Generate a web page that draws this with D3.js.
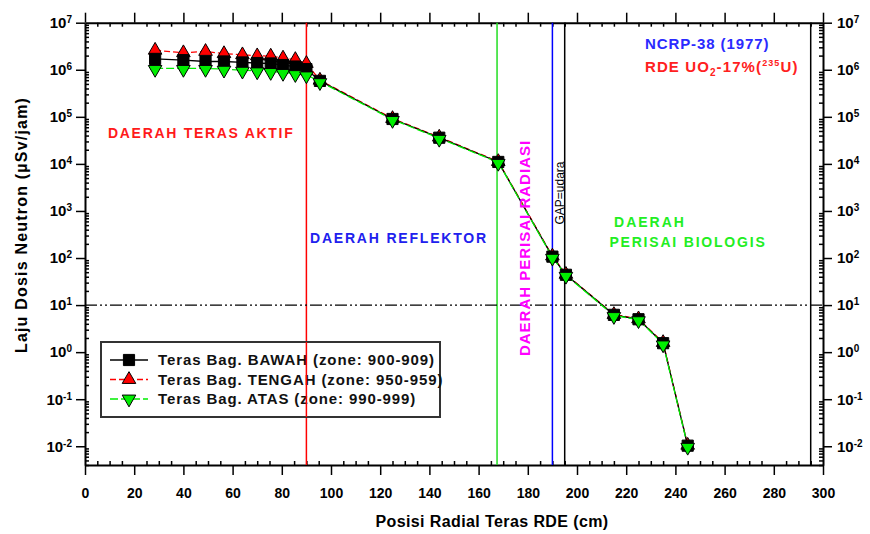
<!DOCTYPE html>
<html><head><meta charset="utf-8">
<script src="https://cdn.jsdelivr.net/npm/d3@7"></script>
<style>body{margin:0;background:#fff}svg{display:block}text{font-family:"Liberation Sans",Arial,sans-serif}</style>
</head><body><div id="chart"></div>
<script>
const positions = [28.5, 40, 49, 56.5, 64, 70, 75.5, 80.5, 85.5, 90, 95.5, 125, 144, 168, 190, 195.5, 215, 225, 235, 245];
const bawah  = [1.7e6, 1.6e6, 1.5e6, 1.5e6, 1.43e6, 1.39e6, 1.36e6, 1.26e6, 1.17e6, 1.03e6, 5.8e5, 9.0e4, 3.6e4, 1.1e4, 107, 44, 6.2, 5.0, 1.55, 0.0103];
const tengah = [2.6e6, 2.3e6, 2.45e6, 2.2e6, 2.08e6, 1.98e6, 1.95e6, 1.77e6, 1.65e6, 1.36e6, 6.0e5, 9.2e4, 3.7e4, 1.12e4, 110, 45, 6.3, 5.1, 1.6, 0.0105];
const atas   = [1.07e6, 1.07e6, 1.07e6, 1.03e6, 0.98e6, 0.95e6, 0.92e6, 0.88e6, 0.83e6, 0.78e6, 5.6e5, 8.8e4, 3.5e4, 1.08e4, 104, 43, 6.0, 4.9, 1.5, 0.0100];
const seriesNames = ["Teras Bag. BAWAH (zone: 900-909)", "Teras Bag. TENGAH (zone: 950-959)", "Teras Bag. ATAS (zone: 990-999)"];
const xTicks = [0,20,40,60,80,100,120,140,160,180,200,220,240,260,280,300];
const yExponents = [7,6,5,4,3,2,1,0,-1,-2];
const regionLines = [90, 167.5, 190, 195, 295];
const limitLine = 10;

const W = 870, H = 534;
const L = 85, R = 823, T = 22.7, B = 465;
const svg = d3.select("#chart").append("svg").attr("width", W).attr("height", H);
const x = d3.scaleLinear().domain([0, 300]).range([L, R]);
const y = d3.scaleLog().domain([0.004, 1e7]).range([B, T]);

const minorX = d3.range(0, 301, 5).filter(v => v % 20 !== 0);
const majorY = yExponents.map(e => Math.pow(10, e));
const minorY = [];
for (let e = -3; e <= 6; e++) for (let m = 2; m <= 9; m++) { const v = m * Math.pow(10, e); if (v >= 0.004 && v <= 1e7) minorY.push(v); }

function styleAxis(g) {
  g.selectAll(".domain").attr("stroke", "#000").attr("stroke-width", 2);
  g.selectAll(".tick line").attr("stroke", "#000").attr("stroke-width", 1.5);
}
const bx = svg.append("g").attr("transform", `translate(0,${B})`).call(d3.axisBottom(x).tickValues(xTicks).tickSize(10).tickSizeOuter(0).tickPadding(13));
styleAxis(bx);
bx.selectAll(".tick text").attr("font-size", 14).attr("font-weight", "bold").attr("fill", "#000");
const bxm = svg.append("g").attr("transform", `translate(0,${B})`).call(d3.axisTop(x).tickValues(minorX).tickSize(4).tickFormat(""));
styleAxis(bxm); bxm.select(".domain").remove();
const tx = svg.append("g").attr("transform", `translate(0,${T})`).call(d3.axisTop(x).tickValues(xTicks).tickSize(10).tickSizeOuter(0).tickFormat(""));
styleAxis(tx);
const txm = svg.append("g").attr("transform", `translate(0,${T})`).call(d3.axisBottom(x).tickValues(minorX).tickSize(4).tickFormat(""));
styleAxis(txm); txm.select(".domain").remove();

function supLabels(g) {
  g.selectAll(".tick text").each(function(d) {
    const t = d3.select(this);
    const e = Math.round(Math.log10(d));
    t.text("10").attr("font-size", 15).attr("font-weight", "bold").attr("fill", "#000");
    t.append("tspan").attr("dy", "-0.5em").attr("font-size", 10).text(e);
  });
}
const ly = svg.append("g").attr("transform", `translate(${L},0)`).call(d3.axisLeft(y).tickValues(majorY).tickSize(9).tickSizeOuter(0).tickPadding(4));
styleAxis(ly); supLabels(ly);
const lym = svg.append("g").attr("transform", `translate(${L},0)`).call(d3.axisRight(y).tickValues(minorY).tickSize(4).tickFormat(""));
styleAxis(lym); lym.select(".domain").remove();
const ry = svg.append("g").attr("transform", `translate(${R},0)`).call(d3.axisRight(y).tickValues(majorY).tickSize(9).tickSizeOuter(0).tickPadding(5));
styleAxis(ry); supLabels(ry);
const rym = svg.append("g").attr("transform", `translate(${R},0)`).call(d3.axisLeft(y).tickValues(minorY).tickSize(4).tickFormat(""));
styleAxis(rym); rym.select(".domain").remove();

// axis titles
svg.append("text").attr("x", 492).attr("y", 527).attr("text-anchor", "middle")
  .attr("font-size", 16).attr("font-weight", "bold").attr("letter-spacing", 0.4).text("Posisi Radial Teras RDE (cm)");
svg.append("text").attr("transform", `translate(27,225) rotate(-90)`).attr("text-anchor", "middle")
  .attr("font-size", 16).attr("font-weight", "bold").attr("letter-spacing", 1.2).text("Laju Dosis Neutron (µSv/jam)");

// region lines
const lineColors = ["#ff0000", "#22dd22", "#0000ff", "#000", "#000"];
svg.selectAll(".vline").data(regionLines).enter().append("line")
  .attr("x1", d => x(d)).attr("x2", d => x(d)).attr("y1", T).attr("y2", B)
  .attr("stroke", (d, i) => lineColors[i]).attr("stroke-width", 1.5);
svg.append("line").attr("x1", L).attr("x2", R).attr("y1", y(limitLine)).attr("y2", y(limitLine))
  .attr("stroke", "#000").attr("stroke-width", 1.2).attr("stroke-dasharray", "12,3,2,3,2,3");

// series
const series = [
  {vals: tengah, name: seriesNames[1], color: "#ff0000", dash: "6,3", sym: "up"},
  {vals: bawah, name: seriesNames[0], color: "#000", dash: null, sym: "sq"},
  {vals: atas, name: seriesNames[2], color: "#00ee00", dash: "8,3", sym: "down"}
];
const lineGen = d3.line().x(d => x(d[0])).y(d => y(d[1]));
function symPath(sym) {
  if (sym === "sq") return d3.symbol(d3.symbolSquare, 125)();
  return d3.symbol(d3.symbolTriangle, 80)();
}
series.forEach(s => {
  const pts = positions.map((p, i) => [p, s.vals[i]]);
  svg.append("path").attr("d", lineGen(pts)).attr("fill", "none").attr("stroke", s.color)
    .attr("stroke-width", 1.3).attr("stroke-dasharray", s.dash);
});
series.forEach(s => {
  const pts = positions.map((p, i) => [p, s.vals[i]]);
  svg.append("g").selectAll("path").data(pts).enter().append("path")
    .attr("d", symPath(s.sym))
    .attr("transform", d => `translate(${x(d[0])},${y(d[1]) + (s.sym === "down" ? 1 : 0)})` + (s.sym === "down" ? " rotate(180)" : ""))
    .attr("fill", s.color).attr("stroke", "#000").attr("stroke-width", 1);
});

// region labels
svg.append("text").attr("x", 108).attr("y", 138).attr("font-size", 14).attr("font-weight", "bold")
  .attr("letter-spacing", 1.7).attr("fill", "#ff1a1a").text("DAERAH TERAS AKTIF");
svg.append("text").attr("x", 310).attr("y", 243).attr("font-size", 14).attr("font-weight", "bold")
  .attr("letter-spacing", 1.8).attr("fill", "#2020ee").text("DAERAH REFLEKTOR");
svg.append("text").attr("transform", "translate(530,248) rotate(-90)").attr("text-anchor", "middle")
  .attr("font-size", 15).attr("font-weight", "bold").attr("letter-spacing", 1).attr("fill", "#ff00ff").text("DAERAH PERISAI RADIASI");
svg.append("text").attr("transform", "translate(564,193) rotate(-90)").attr("text-anchor", "middle")
  .attr("font-size", 12).attr("fill", "#000").text("GAP=udara");
svg.append("text").attr("x", 650).attr("y", 227).attr("text-anchor", "middle").attr("font-size", 14).attr("font-weight", "bold")
  .attr("letter-spacing", 2).attr("fill", "#22ee22").text("DAERAH");
svg.append("text").attr("x", 688).attr("y", 247).attr("text-anchor", "middle").attr("font-size", 14).attr("font-weight", "bold")
  .attr("letter-spacing", 1.8).attr("fill", "#22ee22").text("PERISAI BIOLOGIS");
svg.append("text").attr("x", 645).attr("y", 49).attr("font-size", 15).attr("font-weight", "bold")
  .attr("letter-spacing", 0.9).attr("fill", "#2a2aff").text("NCRP-38 (1977)");
const rde = svg.append("text").attr("x", 645).attr("y", 72).attr("font-size", 15).attr("font-weight", "bold")
  .attr("letter-spacing", 1.1).attr("fill", "#ff2020");
rde.append("tspan").text("RDE UO");
rde.append("tspan").attr("dy", 4).attr("font-size", 10).text("2");
rde.append("tspan").attr("dy", -4).text("-17%(");
rde.append("tspan").attr("dy", -6).attr("font-size", 9).text("235");
rde.append("tspan").attr("dy", 6).text("U)");

// legend
const lg = svg.append("g");
lg.append("rect").attr("x", 101).attr("y", 342).attr("width", 339).attr("height", 75)
  .attr("fill", "#fff").attr("stroke", "#333").attr("stroke-width", 2);
const legOrder = [1, 0, 2];
legOrder.forEach((si, k) => {
  const s = series[si];
  const yy = 360 + k * 19.5;
  lg.append("line").attr("x1", 110).attr("x2", 148).attr("y1", yy).attr("y2", yy)
    .attr("stroke", s.color).attr("stroke-width", 1.3).attr("stroke-dasharray", s.dash);
  lg.append("path").attr("d", symPath(s.sym))
    .attr("transform", `translate(129,${yy})` + (s.sym === "down" ? " rotate(180)" : ""))
    .attr("fill", s.color).attr("stroke", "#000").attr("stroke-width", 1);
  lg.append("text").attr("x", 158).attr("y", yy + 5).attr("font-size", 15).attr("font-weight", "bold")
    .attr("letter-spacing", 0.9).attr("fill", "#111").text(s.name);
});
// red vertical line passes over the legend in the reference
svg.append("line").attr("x1", x(regionLines[0])).attr("x2", x(regionLines[0])).attr("y1", 342).attr("y2", 417)
  .attr("stroke", lineColors[0]).attr("stroke-width", 1.5);
</script></body></html>
